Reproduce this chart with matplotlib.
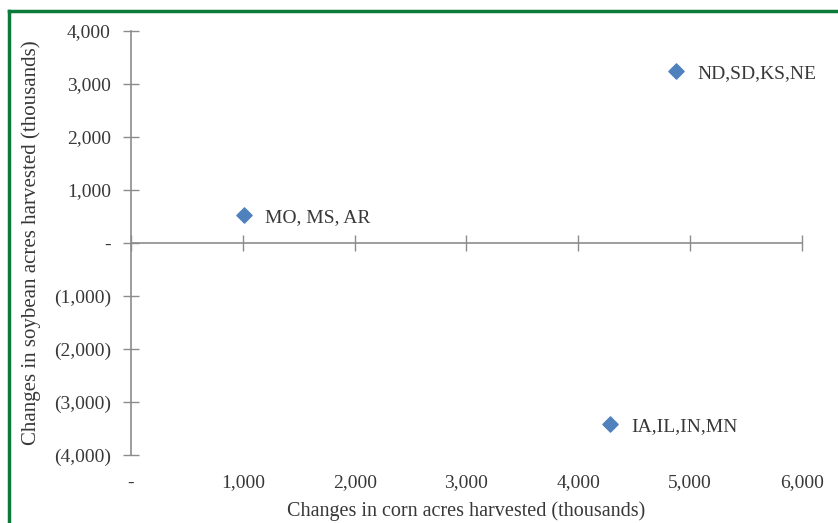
import numpy as np
import matplotlib.pyplot as plt
from matplotlib.lines import Line2D

# changes in harvested acres (thousands), by region
regions = ["MO, MS, AR", "ND,SD,KS,NE", "IA,IL,IN,MN"]
corn_change = [1010, 4875, 4285]
soy_change = [530, 3245, -3415]

xticks = [0, 1000, 2000, 3000, 4000, 5000, 6000]
yticks = [-4000, -3000, -2000, -1000, 0, 1000, 2000, 3000, 4000]


def acct(v):
    if v == 0:
        return "-"
    s = "{:,.0f}".format(abs(v))
    return "(%s)" % s if v < 0 else s


plt.rcParams["font.family"] = ["Liberation Serif", "DejaVu Serif"]
txt = "#383838"
axc = "#8c8c8c"

fig = plt.figure(figsize=(8.38, 5.23), dpi=100)
ax = fig.add_axes([0.1563, 0.130, 0.8007, 0.8107])

ax.scatter(corn_change, soy_change, marker="D", s=60, color="#4F81BD", zorder=3)
for name, x, y in zip(regions, corn_change, soy_change):
    ax.annotate(name, (x, y), xytext=(15, -2), textcoords="offset points",
                va="center", ha="left", fontsize=14, color=txt)

ax.set_xlim(0, 6000)
ax.set_ylim(-4000, 4000)

# labels along the bottom, axis line through zero
ax.set_xticks(xticks)
ax.set_xticklabels([acct(v) for v in xticks])
ax.tick_params(axis="x", length=0, pad=14, labelsize=14, labelcolor=txt)
ax.set_yticks(yticks)
ax.set_yticklabels([acct(v) for v in yticks])
ax.tick_params(axis="y", direction="inout", length=11, width=1, color=axc,
               pad=9, labelsize=14, labelcolor=txt)

for s in ["top", "right", "bottom"]:
    ax.spines[s].set_visible(False)
ax.spines["left"].set_color(axc)
ax.spines["left"].set_linewidth(1.2)

sec = ax.secondary_xaxis(0.5)
sec.set_xticks(xticks)
sec.tick_params(direction="inout", length=11, width=1, color=axc,
                labelbottom=False, labeltop=False)
sec.spines["bottom"].set_color(axc)
sec.spines["bottom"].set_linewidth(1.2)
sec.spines["top"].set_color(axc)
sec.spines["top"].set_linewidth(1.2)

ax.set_xlabel("Changes in corn acres harvested (thousands)", fontsize=14.5,
              color=txt, labelpad=7)
ax.set_ylabel("Changes in soybean acres harvested (thousands)", fontsize=15,
              color=txt, labelpad=9)

# green frame
green = "#0b7a3b"
fig.add_artist(Line2D([0.0107, 1.0], [0.979, 0.979], transform=fig.transFigure,
                      color=green, lw=2.5))
fig.add_artist(Line2D([0.0107, 0.0107], [0.0, 0.979], transform=fig.transFigure,
                      color=green, lw=2.5))

fig.savefig("out.png", dpi=100)
